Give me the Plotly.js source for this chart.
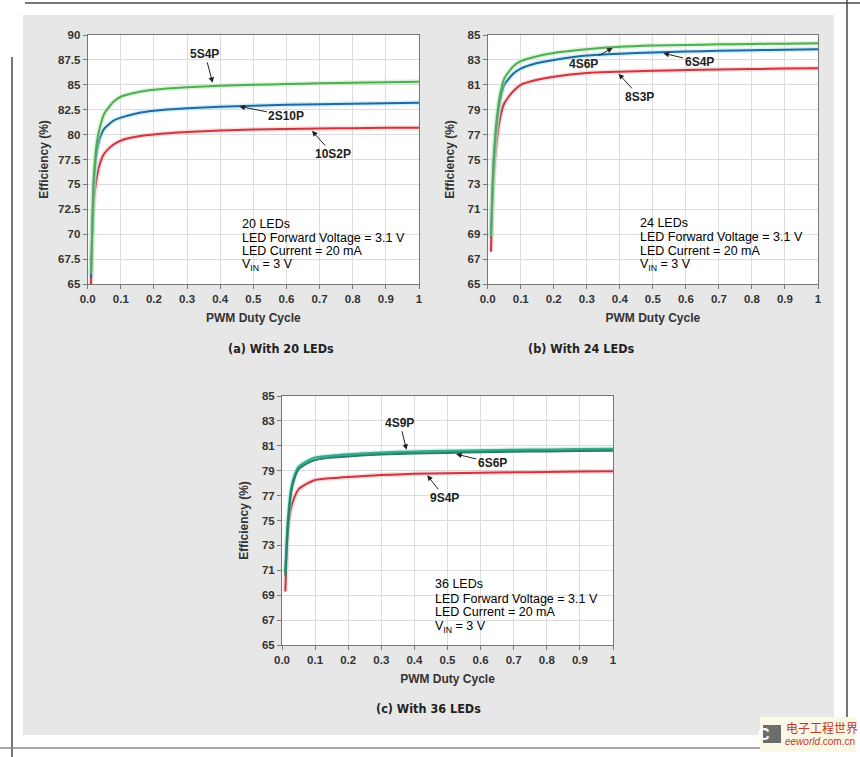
<!DOCTYPE html>
<html>
<head>
<meta charset="utf-8">
<script src="https://cdn.plot.ly/plotly-3.0.1.min.js"></script>
<style>html,body{margin:0;padding:0;background:#fff;}#chart{width:860px;height:757px;}</style>
</head>
<body>
<div id="chart"></div>
<script>
// ---- data ----
const dutyCycle = [0.01, 0.013, 0.018, 0.028, 0.038, 0.05, 0.078, 0.1, 0.15, 0.2, 0.3, 0.4, 0.5, 0.6, 0.7, 0.8, 0.9, 1.0];

// (a) 20 LEDs
const eff_5S4P  = [66.0, 69.5, 75.5, 79.3, 80.9, 82.1, 83.3, 83.8, 84.25, 84.5, 84.75, 84.9, 85.0, 85.08, 85.15, 85.2, 85.25, 85.3];
const eff_2S10P = [65.6, 69.5, 74.8, 78.4, 79.8, 80.6, 81.4, 81.7, 82.15, 82.4, 82.65, 82.8, 82.9, 83.0, 83.05, 83.1, 83.15, 83.2];
const eff_10S2P = [65.0, 69.0, 73.0, 75.8, 77.2, 78.1, 79.0, 79.4, 79.8, 80.0, 80.25, 80.4, 80.5, 80.55, 80.6, 80.65, 80.68, 80.7];

// (b) 24 LEDs
const eff_4S6P = [68.8, 71.5, 75.0, 78.4, 80.3, 81.5, 82.5, 82.9, 83.3, 83.55, 83.85, 84.05, 84.15, 84.2, 84.25, 84.28, 84.3, 84.33];
const eff_6S4P = [68.7, 71.3, 74.8, 78.0, 79.8, 81.0, 81.9, 82.3, 82.75, 83.0, 83.35, 83.5, 83.6, 83.67, 83.73, 83.78, 83.82, 83.85];
const eff_8S3P = [67.6, 70.5, 73.5, 76.6, 78.4, 79.5, 80.5, 81.0, 81.4, 81.65, 81.95, 82.05, 82.12, 82.18, 82.22, 82.26, 82.3, 82.33];

// (c) 36 LEDs
const eff_4S9P = [70.8, 72.5, 75.0, 77.6, 78.6, 79.3, 79.8, 80.05, 80.2, 80.3, 80.45, 80.53, 80.58, 80.62, 80.66, 80.69, 80.72, 80.75];
const eff_6S6P = [70.5, 72.2, 74.7, 77.3, 78.4, 79.1, 79.6, 79.85, 80.05, 80.15, 80.3, 80.38, 80.43, 80.48, 80.52, 80.55, 80.58, 80.6];
const eff_9S4P = [69.3, 71.5, 74.2, 76.1, 76.9, 77.5, 78.0, 78.25, 78.4, 78.5, 78.65, 78.75, 78.8, 78.84, 78.87, 78.9, 78.93, 78.95];

const xTickVals = [0, 0.1, 0.2, 0.3, 0.4, 0.5, 0.6, 0.7, 0.8, 0.9, 1];
const xTickText = ["0.0", "0.1", "0.2", "0.3", "0.4", "0.5", "0.6", "0.7", "0.8", "0.9", "1"];

const infoA = ["20 LEDs", "LED Forward Voltage = 3.1 V", "LED Current = 20 mA", "V<sub>IN</sub> = 3 V"];
const infoB = ["24 LEDs", "LED Forward Voltage = 3.1 V", "LED Current = 20 mA", "V<sub>IN</sub> = 3 V"];
const infoC = ["36 LEDs", "LED Forward Voltage = 3.1 V", "LED Current = 20 mA", "V<sub>IN</sub> = 3 V"];

// ---- styling ----
const GREEN = "#55a957", GREEN_H = "rgba(170,235,170,0.45)";
const BLUE = "#25699c", BLUE_H = "rgba(160,228,245,0.5)";
const RED = "#c9383f", RED_H = "rgba(250,180,185,0.45)";
const TEAL = "#23806a", TEAL_H = "rgba(150,235,225,0.5)";

const W = 860, H = 757;
const px = x => x / W;
const py = y => 1 - y / H;

const traces = [];
function addSeries(ys, color, halo, xa, ya, name, width) {
  traces.push({x: dutyCycle, y: ys, xaxis: xa, yaxis: ya, mode: "lines", name: name + " halo",
    line: {color: halo, width: 5, shape: "spline", smoothing: 0.6}, hoverinfo: "skip", showlegend: false});
  traces.push({x: dutyCycle, y: ys, xaxis: xa, yaxis: ya, mode: "lines", name: name,
    line: {color: color, width: width || 2, shape: "spline", smoothing: 0.6}, showlegend: false});
}
addSeries(eff_10S2P, RED, RED_H, "x", "y", "10S2P");
addSeries(eff_2S10P, BLUE, BLUE_H, "x", "y", "2S10P");
addSeries(eff_5S4P, GREEN, GREEN_H, "x", "y", "5S4P");
addSeries(eff_8S3P, RED, RED_H, "x2", "y2", "8S3P");
addSeries(eff_6S4P, BLUE, BLUE_H, "x2", "y2", "6S4P");
addSeries(eff_4S6P, GREEN, GREEN_H, "x2", "y2", "4S6P");
addSeries(eff_9S4P, RED, RED_H, "x3", "y3", "9S4P");
addSeries(eff_4S9P, "#3aa882", TEAL_H, "x3", "y3", "4S9P", 2.5);
addSeries(eff_6S6P, TEAL, "rgba(0,0,0,0)", "x3", "y3", "6S6P", 2);

const tickFont = {family: "Arial, Liberation Sans, sans-serif", size: 11.5, color: "#333", weight: "bold"};
const titleFont = {family: "Arial, Liberation Sans, sans-serif", size: 12, color: "#333", weight: "bold"};

function xAxis(domain, anchor) {
  return {domain: domain, anchor: anchor, range: [0, 1], tickvals: xTickVals, ticktext: xTickText,
    showgrid: true, gridcolor: "#dcdcdc", gridwidth: 1, zeroline: false,
    showline: true, linecolor: "#777", linewidth: 1, mirror: true,
    ticks: "outside", ticklen: 4, tickcolor: "#777", tickfont: tickFont,
    title: {text: "PWM Duty Cycle", font: titleFont, standoff: 9}, fixedrange: true};
}
function yAxis(domain, anchor, range, dtick, standoff) {
  return {domain: domain, anchor: anchor, range: range, dtick: dtick, tick0: range[0],
    showgrid: true, gridcolor: "#dcdcdc", gridwidth: 1, zeroline: false,
    showline: true, linecolor: "#777", linewidth: 1, mirror: true,
    ticks: "outside", ticklen: 4, tickcolor: "#777", tickfont: tickFont,
    title: {text: "Efficiency (%)", font: titleFont, standoff: standoff}, fixedrange: true};
}

const topDom = [py(284), py(35)];
const botDom = [py(645), py(396)];

const annotations = [];
const lblFont = {family: "Arial, Liberation Sans, sans-serif", size: 12, color: "#222", weight: "bold"};
function label(text, xa, ya, x, y, ax, ay) {
  annotations.push({text: text, xref: xa, yref: ya, x: x, y: y, axref: xa, ayref: ya, ax: ax, ay: ay,
    showarrow: true, arrowhead: 2, arrowsize: 1.1, arrowwidth: 1, arrowcolor: "#222", standoff: 1,
    font: lblFont, bgcolor: "rgba(0,0,0,0)"});
}
// (a)
label("5S4P", "x", "y", 0.378, 85.1, 0.354, 88.1);
label("2S10P", "x", "y", 0.455, 82.85, 0.6, 81.9);
label("10S2P", "x", "y", 0.675, 80.45, 0.74, 78.05);
// (b)
label("4S6P", "x2", "y2", 0.381, 84.0, 0.29, 82.67);
label("6S4P", "x2", "y2", 0.529, 83.55, 0.64, 82.86);
label("8S3P", "x2", "y2", 0.394, 81.95, 0.46, 80.04);
// (c)
label("4S9P", "x3", "y3", 0.377, 80.6, 0.356, 82.86);
label("6S6P", "x3", "y3", 0.523, 80.35, 0.635, 79.64);
label("9S4P", "x3", "y3", 0.437, 78.7, 0.492, 76.83);

const infoFont = {family: "Arial, Liberation Sans, sans-serif", size: 12.5, color: "#000"};
function info(lines, xa, ya, x, ys) {
  lines.forEach((t, i) => annotations.push({text: t, xref: xa, yref: ya, x: x, y: ys[i],
    xanchor: "left", yanchor: "middle", showarrow: false, font: infoFont}));
}
info(infoA, "x", "y", 0.46, [71.0, 69.65, 68.3, 66.9]);
info(infoB, "x2", "y2", 0.456, [69.88, 68.78, 67.65, 66.53]);
info(infoC, "x3", "y3", 0.456, [69.9, 68.7, 67.65, 66.45]);

const capFont = {family: "DejaVu Sans Condensed, Liberation Sans Narrow, Arial Narrow, sans-serif", size: 12.5, color: "#222", weight: "bold", stretch: "condensed"};
annotations.push({text: "(a) With 20 LEDs", xref: "paper", yref: "paper", x: px(226), y: py(348), yanchor: "middle", showarrow: false, font: capFont});
annotations.push({text: "(b) With 24 LEDs", xref: "paper", yref: "paper", x: px(637), y: py(348), yanchor: "middle", showarrow: false, font: capFont});
annotations.push({text: "(c) With 36 LEDs", xref: "paper", yref: "paper", x: px(428), y: py(708), yanchor: "middle", showarrow: false, font: capFont});

// watermark
annotations.push({text: "电子工程世界", xref: "paper", yref: "paper", x: px(784), y: py(727), xanchor: "left", yanchor: "middle", showarrow: false,
  font: {family: "Noto Sans CJK SC", size: 12, color: "#c0392b"}});
annotations.push({text: "<i>eeworld</i>.com.cn", xref: "paper", yref: "paper", x: px(783), y: py(741), xanchor: "left", yanchor: "middle", showarrow: false,
  font: {family: "Arial, sans-serif", size: 10, color: "#c0392b"}});
annotations.push({text: "C", xref: "paper", yref: "paper", x: px(772), y: py(734), yanchor: "middle", showarrow: false,
  font: {family: "Arial, sans-serif", size: 16, color: "#fff", weight: "bold"}});

function plotBg(xa, ya) {
  return {type: "rect", xref: xa + " domain", yref: ya + " domain", x0: 0, x1: 1, y0: 0, y1: 1,
    fillcolor: "#ffffff", line: {width: 0}, layer: "below"};
}

const shapes = [
  {type: "rect", xref: "paper", yref: "paper", x0: px(23), x1: px(834), y0: py(735), y1: py(15), fillcolor: "#e7e7e7", line: {width: 0}, layer: "below"},
  plotBg("x", "y"), plotBg("x2", "y2"), plotBg("x3", "y3"),
  {type: "line", xref: "paper", yref: "paper", x0: px(25), x1: px(860), y0: py(3), y1: py(3), line: {color: "#4a4a4a", width: 1.5}},
  {type: "line", xref: "paper", yref: "paper", x0: px(847), x1: px(847), y0: py(0), y1: py(746), line: {color: "#4a4a4a", width: 1.5}},
  {type: "line", xref: "paper", yref: "paper", x0: px(12), x1: px(12), y0: py(57), y1: py(757), line: {color: "#4a4a4a", width: 1.5}},
  {type: "line", xref: "paper", yref: "paper", x0: px(0), x1: px(845), y0: py(748), y1: py(748), line: {color: "#8a8a8a", width: 1.5}},
  {type: "rect", xref: "paper", yref: "paper", x0: px(760), x1: px(856), y0: py(752), y1: py(717), fillcolor: "#fbf8e6", line: {width: 0}},
  {type: "rect", xref: "paper", yref: "paper", x0: px(763), x1: px(781), y0: py(743), y1: py(725), fillcolor: "#6d6d6d", line: {width: 0}}
];

const layout = {
  width: W, height: H, margin: {l: 0, r: 0, t: 0, b: 0},
  paper_bgcolor: "#ffffff", plot_bgcolor: "#ffffff", showlegend: false,
  xaxis: xAxis([px(87.7), px(419)], "y"),
  yaxis: yAxis(topDom, "x", [65, 90], 2.5, 6),
  xaxis2: xAxis([px(487.7), px(818)], "y2"),
  yaxis2: yAxis(topDom, "x2", [65, 85], 2, 10),
  xaxis3: xAxis([px(282), px(613)], "y3"),
  yaxis3: yAxis(botDom, "x3", [65, 85], 2, 10),
  annotations: annotations, shapes: shapes
};

Plotly.newPlot("chart", traces, layout, {staticPlot: true, displayModeBar: false});
</script>
</body>
</html>
